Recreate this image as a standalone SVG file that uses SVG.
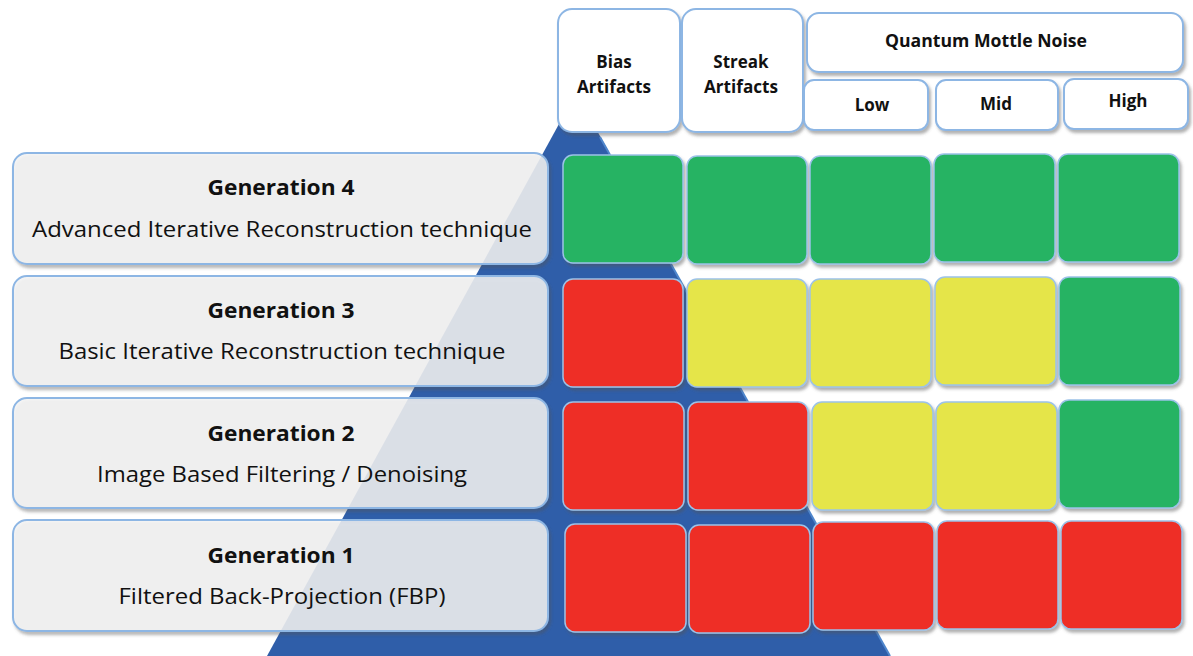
<svg xmlns="http://www.w3.org/2000/svg" width="1193" height="656" viewBox="0 0 1193 656">
  <defs>
    <filter id="shadow" x="-10%" y="-10%" width="125%" height="130%">
      <feDropShadow dx="2" dy="3" stdDeviation="1.8" flood-color="#555" flood-opacity="0.45"/>
    </filter>
    <style>
      .gen { fill: #F4F4F4; fill-opacity: 0.84; stroke: #8DB6E4; stroke-width: 2; filter: url(#shadow); }
      .hdr { fill: #FFFFFF; stroke: #8DB6E4; stroke-width: 2; filter: url(#shadow); }
      .cell { stroke: #9CC2E8; stroke-width: 1.5; filter: url(#shadow); }
      .g { fill: #25B363; }
      .r { fill: #EE2E25; }
      .y { fill: #E5E54A; }
      .title { font-family: "Open Sans", "Liberation Sans", sans-serif; font-weight: bold; font-size: 22px; fill: #111; text-anchor: middle; }
      .sub { font-family: "Open Sans", "Liberation Sans", sans-serif; font-size: 22px; fill: #111; text-anchor: middle; }
      .hd { font-family: "Open Sans", "Liberation Sans", sans-serif; font-weight: bold; font-size: 17px; fill: #111; text-anchor: middle; }
    </style>
  </defs>

  <rect width="1193" height="656" fill="#FFFFFF"/>

  <!-- backdrop pyramid -->
  <g id="pyramid">
    <polygon points="576,93 267,656 890,656" fill="#2F5EA9"/>
    <line x1="600" y1="137" x2="890" y2="656" stroke="#4F86CC" stroke-width="2"/>
  </g>

  <!-- column headers -->
  <g id="hdr-bias">
    <rect class="hdr" x="558" y="9" width="122" height="123" rx="14"/>
    <text class="hd" x="614" y="68">Bias</text>
    <text class="hd" x="614" y="93" textLength="74" lengthAdjust="spacingAndGlyphs">Artifacts</text>
  </g>
  <g id="hdr-streak">
    <rect class="hdr" x="682" y="9" width="121" height="123" rx="14"/>
    <text class="hd" x="741" y="68">Streak</text>
    <text class="hd" x="741" y="93" textLength="74" lengthAdjust="spacingAndGlyphs">Artifacts</text>
  </g>
  <g id="hdr-quantum">
    <rect class="hdr" x="807" y="13" width="376" height="59" rx="12"/>
    <text class="hd" x="986" y="47" textLength="202" lengthAdjust="spacingAndGlyphs">Quantum Mottle Noise</text>
  </g>
  <g id="hdr-low">
    <rect class="hdr" x="804" y="80" width="124" height="50" rx="10"/>
    <text class="hd" x="872" y="111">Low</text>
  </g>
  <g id="hdr-mid">
    <rect class="hdr" x="936" y="80" width="122" height="50" rx="10"/>
    <text class="hd" x="996" y="110">Mid</text>
  </g>
  <g id="hdr-high">
    <rect class="hdr" x="1064" y="79" width="124" height="50" rx="10"/>
    <text class="hd" x="1128" y="107">High</text>
  </g>

  <!-- generation rows -->
  <g id="gen4">
    <rect class="gen" x="13" y="153" width="535" height="111" rx="14"/>
    <text class="title" x="281" y="195" textLength="147" lengthAdjust="spacingAndGlyphs">Generation 4</text>
    <text class="sub" x="282" y="237" textLength="500" lengthAdjust="spacingAndGlyphs">Advanced Iterative Reconstruction technique</text>
  </g>
  <g id="gen3">
    <rect class="gen" x="13" y="276" width="535" height="110" rx="14"/>
    <text class="title" x="281" y="318" textLength="147" lengthAdjust="spacingAndGlyphs">Generation 3</text>
    <text class="sub" x="282" y="359" textLength="447" lengthAdjust="spacingAndGlyphs">Basic Iterative Reconstruction technique</text>
  </g>
  <g id="gen2">
    <rect class="gen" x="13" y="398" width="535" height="110" rx="14"/>
    <text class="title" x="281" y="441" textLength="147" lengthAdjust="spacingAndGlyphs">Generation 2</text>
    <text class="sub" x="282" y="482" textLength="370" lengthAdjust="spacingAndGlyphs">Image Based Filtering / Denoising</text>
  </g>
  <g id="gen1">
    <rect class="gen" x="13" y="520" width="535" height="111" rx="14"/>
    <text class="title" x="281" y="563" textLength="147" lengthAdjust="spacingAndGlyphs">Generation 1</text>
    <text class="sub" x="282" y="604" textLength="327" lengthAdjust="spacingAndGlyphs">Filtered Back-Projection (FBP)</text>
  </g>

  <!-- rating cells -->
  <g id="cells-gen4">
    <rect class="cell g" x="563" y="155" width="120" height="108" rx="10"/>
    <rect class="cell g" x="687" y="156" width="120" height="108" rx="10"/>
    <rect class="cell g" x="810" y="156" width="121" height="108" rx="10"/>
    <rect class="cell g" x="934" y="154" width="121" height="108" rx="10"/>
    <rect class="cell g" x="1058" y="154" width="121" height="108" rx="10"/>
  </g>
  <g id="cells-gen3">
    <rect class="cell r" x="563" y="279" width="120" height="108" rx="10"/>
    <rect class="cell y" x="687" y="279" width="120" height="108" rx="10"/>
    <rect class="cell y" x="810" y="279" width="121" height="108" rx="10"/>
    <rect class="cell y" x="935" y="277" width="121" height="108" rx="10"/>
    <rect class="cell g" x="1059" y="277" width="121" height="108" rx="10"/>
  </g>
  <g id="cells-gen2">
    <rect class="cell r" x="563" y="402" width="121" height="108" rx="10"/>
    <rect class="cell r" x="688" y="402" width="120" height="108" rx="10"/>
    <rect class="cell y" x="812" y="402" width="121" height="108" rx="10"/>
    <rect class="cell y" x="936" y="402" width="121" height="108" rx="10"/>
    <rect class="cell g" x="1059" y="400" width="121" height="108" rx="10"/>
  </g>
  <g id="cells-gen1">
    <rect class="cell r" x="565" y="524" width="121" height="108" rx="10"/>
    <rect class="cell r" x="689" y="525" width="121" height="108" rx="10"/>
    <rect class="cell r" x="813" y="522" width="121" height="108" rx="10"/>
    <rect class="cell r" x="937" y="521" width="121" height="108" rx="10"/>
    <rect class="cell r" x="1061" y="521" width="121" height="108" rx="10"/>
  </g>
</svg>
